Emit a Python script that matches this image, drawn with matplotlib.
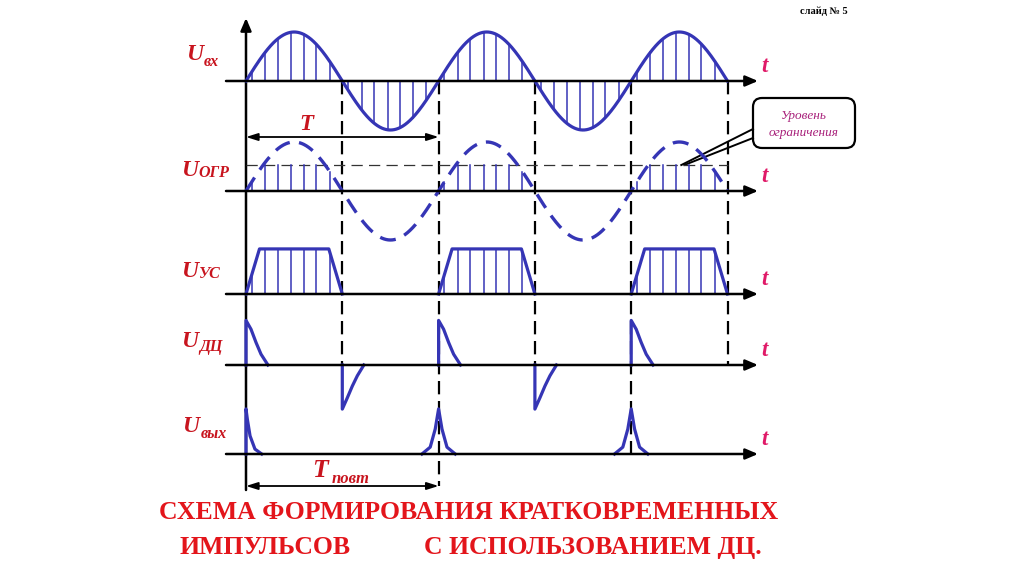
import numpy as np
import matplotlib
matplotlib.use("Agg")
import matplotlib.pyplot as plt
from matplotlib.patches import FancyBboxPatch
from matplotlib.transforms import blended_transform_factory

# ---------------- data (time in half-periods of the input sine, amplitude in input-amplitude units)
n_half = 5                      # number of half-periods drawn
sine_amp = 1.0
clip_level = 0.53               # "Уровень ограничения"
hatch_offsets = [0.06, 0.20, 0.33, 0.47, 0.60, 0.73, 0.87]
pos_halves = [0, 2, 4]
neg_halves = [1, 3]
us_level = 0.92
us_shape_t = [0.0, 0.14, 0.86, 1.0]
us_shape_v = [0.0, 1.0, 1.0, 0.0]
dc_pos_t = [0.0, 0.0, 0.052, 0.104, 0.156, 0.228]
dc_pos_v = [0.0, 0.91, 0.73, 0.46, 0.22, 0.0]
dc_neg_t = [0.0, 0.0, 0.052, 0.104, 0.156, 0.224]
dc_neg_v = [0.0, -0.90, -0.67, -0.43, -0.22, 0.0]
out_first_t = [0.0, 0.0, 0.014, 0.042, 0.093, 0.163]
out_first_v = [0.0, 0.92, 0.71, 0.37, 0.10, 0.0]
out_peak_t = [-0.173, -0.087, -0.035, 0.0, 0.035, 0.087, 0.173]
out_peak_v = [0.0, 0.14, 0.51, 0.92, 0.51, 0.14, 0.0]
out_peak_halves = [2, 4]
marker_times = [1, 2, 3, 4, 5]
marker_end_rows = [3, 5, 3, 4, 3]      # 5 -> down to the T_повт arrow
row_subs = ["вх", "ОГР", "УС", "ДЦ", "вых"]
callout_t = 4.52
title_line1 = "СХЕМА ФОРМИРОВАНИЯ КРАТКОВРЕМЕННЫХ"
title_line2a = "ИМПУЛЬСОВ"
title_line2b = "С ИСПОЛЬЗОВАНИЕМ ДЦ."

# ---------------- layout / style
W, H = 1024, 576
X0, HALF, UNIT = 246, 96.3, 49
ROW_BASE = [81, 191, 294, 365, 454]
TPOVT_Y = 486
BLUE = "#3535b5"
RED = "#c8141e"
TRED = "#e01a68"
TITLE_RED = "#e3151b"
SERIF = "Liberation Serif"
AX_ARROW = "-|>,head_length=0.75,head_width=0.32"
DIM_ARROW = "<|-|>,head_length=0.7,head_width=0.22"

fig = plt.figure(figsize=(W / 100, H / 100), dpi=100)
pix = fig.add_axes([0, 0, 1, 1])
pix.set_xlim(0, W)
pix.set_ylim(H, 0)
pix.axis("off")

tlim = ((0 - X0) / HALF, (W - X0) / HALF)
rows = []
for b in ROW_BASE:
    ax = fig.add_axes([0, 0, 1, 1])
    ax.set_xlim(*tlim)
    ax.set_ylim((b - H) / UNIT, b / UNIT)
    ax.axis("off")
    ax.patch.set_alpha(0)
    rows.append(ax)

bt = blended_transform_factory(rows[0].transData, pix.transData)

# horizontal axes with arrows
t_ax0 = (226 - X0) / HALF
t_ax1 = (758 - X0) / HALF
for ax in rows:
    ax.annotate("", xy=(t_ax1, 0), xytext=(t_ax0, 0),
                arrowprops=dict(arrowstyle=AX_ARROW, color="k",
                                lw=1.8, shrinkA=0, shrinkB=0, mutation_scale=10), zorder=5)

# vertical axis
pix.annotate("", xy=(0, 18), xycoords=bt, xytext=(0, 490), textcoords=bt,
             arrowprops=dict(arrowstyle=AX_ARROW, color="k",
                             lw=1.8, shrinkA=0, shrinkB=0, mutation_scale=10))

# dashed time markers
for t, e in zip(marker_times, marker_end_rows):
    ybot = TPOVT_Y if e >= len(ROW_BASE) else ROW_BASE[e]
    pix.plot([t, t], [ROW_BASE[0], ybot], transform=bt, color="k", lw=1.6,
             dashes=(6.0, 3.0))

# ---- U_вх
tt = np.linspace(0, n_half, 1200)
rows[0].plot(tt, sine_amp * np.sin(np.pi * tt), color=BLUE, lw=2.3, zorder=3)
for k in pos_halves + neg_halves:
    for o in hatch_offsets:
        t = k + o
        rows[0].plot([t, t], [0, sine_amp * np.sin(np.pi * t)], color=BLUE, lw=1.1)

# ---- U_огр
rows[1].plot(tt, sine_amp * np.sin(np.pi * tt), color=BLUE, lw=2.4, dashes=(4.8, 2.8), zorder=3)
rows[1].plot([0, n_half], [clip_level, clip_level], color="#333333", lw=0.9, dashes=(9, 5))
for k in pos_halves:
    for o in hatch_offsets:
        t = k + o
        rows[1].plot([t, t], [0, min(sine_amp * np.sin(np.pi * t), clip_level)],
                     color=BLUE, lw=1.1)

# ---- U_ус
for k in pos_halves:
    rows[2].plot(k + np.array(us_shape_t), us_level * np.array(us_shape_v),
                 color=BLUE, lw=2.3, zorder=3)
    for o in hatch_offsets:
        rows[2].plot([k + o, k + o], [0, us_level * np.interp(o, us_shape_t, us_shape_v)],
                     color=BLUE, lw=1.1)

# ---- U_дц
for k in pos_halves:
    rows[3].plot(k + np.array(dc_pos_t), dc_pos_v, color=BLUE, lw=2.3)
for k in neg_halves:
    rows[3].plot(k + np.array(dc_neg_t), dc_neg_v, color=BLUE, lw=2.3)

# ---- U_вых
rows[4].plot(np.array(out_first_t), out_first_v, color=BLUE, lw=2.3)
for k in out_peak_halves:
    rows[4].plot(k + np.array(out_peak_t), out_peak_v, color=BLUE, lw=2.3)

# ---- row labels
U_POS = [(186, 60), (181, 176), (181, 277), (181, 347), (182, 432)]
SUB_POS = [(204, 66), (198, 177), (199, 278), (199, 351), (201, 438)]
for (ux, uy), (sx, sy), sub in zip(U_POS, SUB_POS, row_subs):
    pix.text(ux, uy, "U", family=SERIF, fontsize=17, fontweight="bold", style="italic",
             color=RED, ha="left", va="baseline")
    pix.text(sx, sy, sub, family=SERIF, fontsize=11.5, fontweight="bold", style="italic",
             color=RED, ha="left", va="baseline")

# "t" labels
for b in ROW_BASE:
    pix.text(764, b - 9, "t", family=SERIF, fontsize=16.5, fontweight="bold", style="italic",
             color=TRED, ha="center", va="baseline")

# T arrow
T_Y = 137
pix.annotate("", xy=(2, T_Y), xycoords=bt, xytext=(0, T_Y), textcoords=bt,
             arrowprops=dict(arrowstyle=DIM_ARROW, color="k",
                             lw=1.3, shrinkA=0, shrinkB=0, mutation_scale=10))
pix.text(306, 130, "T", family=SERIF, fontsize=16.5, fontweight="bold", style="italic",
         color=RED, ha="center", va="baseline")

# T_повт arrow
pix.annotate("", xy=(2, TPOVT_Y), xycoords=bt, xytext=(0, TPOVT_Y), textcoords=bt,
             arrowprops=dict(arrowstyle=DIM_ARROW, color="k",
                             lw=1.3, shrinkA=0, shrinkB=0, mutation_scale=10))
pix.text(312, 477, "T", family=SERIF, fontsize=18.5, fontweight="bold", style="italic",
         color=RED, ha="left", va="baseline")
pix.text(332, 483, "повт", family=SERIF, fontsize=12, fontweight="bold", style="italic",
         color=RED, ha="left", va="baseline")

# callout
tip_x = X0 + callout_t * HALF
tip_y = ROW_BASE[1] - clip_level * UNIT
box = FancyBboxPatch((753, 98), 102, 50, boxstyle="round,pad=0,rounding_size=9",
                     fc="white", ec="k", lw=1.6, zorder=6)
pix.add_patch(box)
pix.plot([753, tip_x], [129, tip_y], color="k", lw=1.4, zorder=7)
pix.plot([753, tip_x + 3], [138, tip_y], color="k", lw=1.4, zorder=7)
pix.text(804, 116, "Уровень", family=SERIF, fontsize=9.5, style="italic",
         color="#a8207a", ha="center", va="center", zorder=8)
pix.text(804, 133, "ограничения", family=SERIF, fontsize=9.5, style="italic",
         color="#a8207a", ha="center", va="center", zorder=8)

# slide number
pix.text(848, 14, "слайд № 5", family=SERIF, fontsize=7.5, fontweight="bold",
         color="k", ha="right", va="baseline")

# title
t1 = pix.text(469, 519, title_line1, family=SERIF, fontsize=20, fontweight="bold",
              color=TITLE_RED, ha="center", va="baseline")
fig.canvas.draw()
bb = t1.get_window_extent()
fs = 20 * 618 / bb.width
t1.set_fontsize(fs)
pix.text(180, 554, title_line2a, family=SERIF, fontsize=fs, fontweight="bold",
         color=TITLE_RED, ha="left", va="baseline")
pix.text(762, 554, title_line2b, family=SERIF, fontsize=fs, fontweight="bold",
         color=TITLE_RED, ha="right", va="baseline")

fig.savefig("out.png", dpi=100, facecolor="white")
